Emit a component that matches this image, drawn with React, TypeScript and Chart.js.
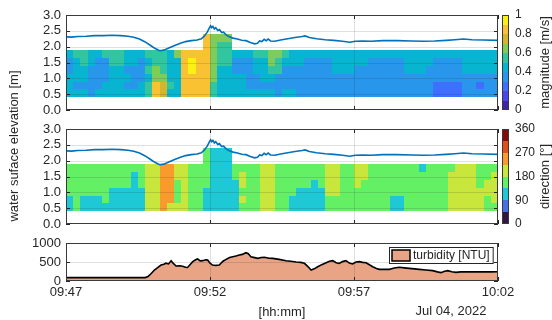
import React, { useEffect, useRef } from 'react';
import { Chart, registerables } from 'chart.js';

Chart.register(...registerables);

const FONT = "'Liberation Sans', Arial, Helvetica, sans-serif";
const TEXT = '#262626';
Chart.defaults.font.family = FONT;
Chart.defaults.color = TEXT;

// ---------- data ----------
const timeTickValues = [0, 5, 10, 15]; // minutes after 09:47
const timeTickLabels = ['09:47', '09:52', '09:57', '10:02'];
const dateLabel = 'Jul 04, 2022';
const xTitle = '[hh:mm]';
const yTitle = 'water suface elevation [m]';
const elevationTicks = [0, 0.5, 1, 1.5, 2, 2.5, 3];
const turbidityTicks = [0, 500, 1000];

// water surface elevation [m] vs minutes after 09:47
const waterLevel: [number, number][] = [
  [0.0, 2.31], [0.2, 2.3], [0.4, 2.32], [0.7, 2.33], [1.0, 2.35], [1.3, 2.35], [1.6, 2.36], [1.9, 2.35],
  [2.15, 2.33], [2.35, 2.3], [2.55, 2.24], [2.75, 2.15], [2.95, 2.03], [3.1, 1.94], [3.25, 1.87], [3.4, 1.89],
  [3.55, 1.95], [3.75, 2.03], [3.95, 2.1], [4.15, 2.16], [4.35, 2.19], [4.55, 2.21], [4.7, 2.25], [4.8, 2.33],
  [4.9, 2.45], [4.97, 2.58], [5.02, 2.66], [5.06, 2.6], [5.1, 2.64], [5.15, 2.56], [5.2, 2.6], [5.27, 2.51],
  [5.33, 2.54], [5.4, 2.45], [5.47, 2.46], [5.55, 2.38], [5.65, 2.32], [5.8, 2.27], [5.95, 2.24], [6.1, 2.2],
  [6.25, 2.19], [6.4, 2.13], [6.55, 2.09], [6.65, 2.11], [6.72, 2.18], [6.8, 2.16], [6.88, 2.23], [6.95, 2.19],
  [7.02, 2.24], [7.1, 2.18], [7.25, 2.17], [7.45, 2.21], [7.7, 2.25], [7.95, 2.29], [8.2, 2.32], [8.3, 2.34],
  [8.45, 2.29], [8.7, 2.25], [9.0, 2.22], [9.3, 2.2], [9.6, 2.17], [9.85, 2.14], [10.05, 2.17], [10.3, 2.18],
  [10.6, 2.17], [11.0, 2.19], [11.5, 2.19], [12.0, 2.18], [12.4, 2.17], [12.8, 2.18], [13.2, 2.2], [13.5, 2.22],
  [13.8, 2.24], [14.1, 2.22], [14.5, 2.21], [15.0, 2.2],
];

// turbidity [NTU] vs minutes after 09:47
const turbidity: [number, number][] = [
  [0, 88], [1, 88], [2, 88], [2.75, 90], [2.85, 120], [2.95, 190], [3.07, 290], [3.18, 350], [3.3, 420],
  [3.4, 440], [3.47, 470], [3.56, 450], [3.65, 535], [3.72, 470], [3.82, 395], [3.95, 400], [4.05, 390],
  [4.15, 360], [4.22, 355], [4.32, 440], [4.4, 510], [4.5, 560], [4.57, 580], [4.66, 530], [4.75, 535],
  [4.85, 560], [4.92, 550], [5.0, 470], [5.09, 420], [5.2, 410], [5.32, 420], [5.45, 520], [5.56, 570],
  [5.68, 620], [5.79, 640], [5.9, 660], [6.02, 685], [6.12, 700], [6.25, 745], [6.33, 720], [6.42, 640],
  [6.55, 615], [6.66, 595], [6.78, 620], [6.89, 625], [7.05, 600], [7.18, 595], [7.4, 570], [7.64, 535],
  [7.8, 520], [7.99, 500], [8.15, 490], [8.28, 465], [8.4, 380], [8.51, 290], [8.62, 320], [8.74, 375],
  [8.88, 430], [9.03, 480], [9.15, 520], [9.26, 535], [9.38, 480], [9.49, 465], [9.6, 510], [9.72, 535],
  [9.84, 470], [9.95, 447], [10.07, 500], [10.19, 510], [10.3, 490], [10.42, 480], [10.55, 420], [10.65, 375],
  [10.78, 330], [10.88, 307], [11.05, 310], [11.23, 307], [11.4, 340], [11.57, 360], [11.75, 345], [11.92, 333],
  [12.1, 320], [12.27, 307], [12.5, 290], [12.73, 272], [12.9, 240], [13.02, 220], [13.12, 250], [13.25, 272],
  [13.4, 245], [13.54, 228], [13.7, 240], [13.89, 245], [14.2, 240], [14.47, 245], [14.75, 240], [15, 245],
];

// heatmap bins: 0.25-minute columns, depth rows (edges in m)
const cellMinutes = 0.25;
const depthEdges = [0.4, 0.65, 0.9, 1.15, 1.4, 1.65, 1.9, 2.15, 2.4];

// current magnitude, tenths of m/s per cell; rows listed top (2.15-2.4 m) to bottom (0.4-0.65 m); '.' = no data
const magnitudeRows = [
  '.......... .........8 666....... .......... .......... ..........',
  '.......... .........8 655....... .......... .......... ..........',
  '4554455544 4555468888 6554445566 5444444444 4444444444 4444444444',
  '3454335544 3455448988 6553334465 4443333444 4433333444 4333344444',
  '3443334433 3565448988 6443334455 3333333444 3333333444 3333344444',
  '4443334443 3466448888 6444433443 3333333333 3333333333 3333333333',
  '4333344433 4587548888 5444433333 3333333333 3333333333 3222233233',
  '4443444444 4587448888 5444444443 4433333333 3333333333 3222233333',
];

// current direction, 45-degree sector index per cell; same layout
const directionRows = [
  '.......... .........3 222....... .......... .......... ..........',
  '.......... .........3 222....... .......... .......... ..........',
  '3333333333 3445544333 2223333443 3333334433 4433333332 3333444333',
  '3333333332 3445544333 2223433443 3333334433 4433333333 3334444334',
  '3333333332 3445534333 2222433443 3333234433 4333333333 3334444344',
  '3333332222 2445534332 2222333443 3322224433 3333333333 3334444444',
  '2322232222 2445534332 2222433443 3222223333 3333322333 3334444434',
  '2322222222 2445444332 2222333443 3222223333 3333322333 3334444433',
];

const magnitudeEdges = [0, 0.1, 0.2, 0.3, 0.4, 0.5, 0.6, 0.7, 0.8, 0.9, 1];
const magnitudeColors = ['#3e26a8', '#4747eb', '#3e6fff', '#2796eb', '#08b5d0', '#31c69f', '#80cc59', '#d4b52c', '#f8c232', '#f9f014'];
const magnitudeTicks = [0, 0.2, 0.4, 0.6, 0.8, 1];
const directionEdges = [0, 45, 90, 135, 180, 225, 270, 315, 360];
const directionColors = ['#2f1646', '#4670e8', '#1ec8d4', '#64f064', '#c8e63c', '#f89a2c', '#e0501a', '#860a0a'];
const directionTicks = [0, 90, 180, 270, 360];

const LINE_BLUE = '#0072BD';
const TURB_FILL = '#e9a385';

// ---------- plugins ----------
type DecorCfg = {
  heat?: { rows: string[]; colors: string[] };
  yTicks: number[];
  colorbar?: { edges: number[]; colors: string[]; title: string };
  legend?: string;
  date?: string;
};

function decorPlugin(cfg: DecorCfg) {
  return {
    id: 'decor',
    beforeDatasetsDraw(chart: any) {
      if (!cfg.heat) return;
      const { ctx, chartArea: ca, scales } = chart;
      const xs = scales.x, ys = scales.y;
      ctx.save();
      ctx.beginPath();
      ctx.rect(ca.left, ca.top, ca.right - ca.left, ca.bottom - ca.top);
      ctx.clip();
      const n = cfg.heat.rows.length;
      cfg.heat.rows.forEach((raw, ri) => {
        const row = raw.replace(/ /g, '');
        const bin = n - 1 - ri;
        const y0 = Math.round(ys.getPixelForValue(depthEdges[bin + 1]));
        const y1 = Math.round(ys.getPixelForValue(depthEdges[bin]));
        for (let c = 0; c < row.length; c++) {
          const ch = row[c];
          if (ch === '.') continue;
          const x0 = Math.round(xs.getPixelForValue(c * cellMinutes));
          const x1 = Math.round(xs.getPixelForValue((c + 1) * cellMinutes));
          ctx.fillStyle = cfg.heat!.colors[Number(ch)];
          ctx.fillRect(x0, y0, x1 - x0, y1 - y0);
        }
      });
      ctx.restore();
    },
    afterDatasetsDraw(chart: any) {
      const { ctx, chartArea: ca, scales } = chart;
      const xs = scales.x, ys = scales.y;
      ctx.save();
      // grid
      ctx.strokeStyle = 'rgba(38,38,38,0.15)';
      ctx.lineWidth = 1;
      ctx.beginPath();
      cfg.yTicks.forEach((v) => {
        if (v <= ys.min || v >= ys.max) return;
        const y = Math.round(ys.getPixelForValue(v)) + 0.5;
        ctx.moveTo(ca.left, y);
        ctx.lineTo(ca.right, y);
      });
      timeTickValues.forEach((v) => {
        if (v <= xs.min || v >= xs.max) return;
        const x = Math.round(xs.getPixelForValue(v)) + 0.5;
        ctx.moveTo(x, ca.top);
        ctx.lineTo(x, ca.bottom);
      });
      ctx.stroke();
      // inward tick marks
      ctx.strokeStyle = TEXT;
      ctx.beginPath();
      const tl = 4;
      cfg.yTicks.forEach((v) => {
        const y = Math.round(ys.getPixelForValue(v)) + 0.5;
        ctx.moveTo(ca.left, y);
        ctx.lineTo(ca.left + tl, y);
        ctx.moveTo(ca.right - tl, y);
        ctx.lineTo(ca.right, y);
      });
      timeTickValues.forEach((v) => {
        const x = Math.round(xs.getPixelForValue(v)) + 0.5;
        ctx.moveTo(x, ca.top);
        ctx.lineTo(x, ca.top + tl);
        ctx.moveTo(x, ca.bottom - tl);
        ctx.lineTo(x, ca.bottom);
      });
      ctx.stroke();
      // frame
      ctx.strokeStyle = '#3a3a3a';
      ctx.strokeRect(ca.left + 0.5, ca.top + 0.5, ca.right - ca.left - 1, ca.bottom - ca.top - 1);
      ctx.restore();
    },
    afterDraw(chart: any) {
      const { ctx, chartArea: ca, scales } = chart;
      ctx.save();
      if (cfg.colorbar) {
        const cb = scales.cb;
        const x0 = ca.right + 4;
        const w = 7;
        cfg.colorbar.colors.forEach((col, k) => {
          const yA = Math.round(cb.getPixelForValue(cfg.colorbar!.edges[k + 1]));
          const yB = Math.round(cb.getPixelForValue(cfg.colorbar!.edges[k]));
          ctx.fillStyle = col;
          ctx.fillRect(x0, yA, w, yB - yA);
        });
        ctx.strokeStyle = '#3a3a3a';
        ctx.lineWidth = 1;
        ctx.strokeRect(x0 + 0.5, ca.top + 0.5, w - 1, ca.bottom - ca.top - 1);
        ctx.translate(545, (ca.top + ca.bottom) / 2);
        ctx.rotate(-Math.PI / 2);
        ctx.fillStyle = TEXT;
        ctx.font = `13px ${FONT}`;
        ctx.textAlign = 'center';
        ctx.textBaseline = 'middle';
        ctx.fillText(cfg.colorbar.title, 0, 0);
        ctx.setTransform(1, 0, 0, 1, 0, 0);
      }
      if (cfg.legend) {
        ctx.font = `12px ${FONT}`;
        const tw = ctx.measureText(cfg.legend).width;
        const h = 17;
        const sw = 18;
        const bw = 3 + sw + 3 + tw + 4;
        const bx = Math.round(ca.right - 4 - bw);
        const by = Math.round(ca.top + 4);
        ctx.fillStyle = '#ffffff';
        ctx.fillRect(bx, by, bw, h);
        ctx.strokeStyle = '#262626';
        ctx.lineWidth = 1;
        ctx.strokeRect(bx + 0.5, by + 0.5, bw - 1, h - 1);
        ctx.fillStyle = TURB_FILL;
        ctx.fillRect(bx + 3, by + 3, sw, h - 6);
        ctx.lineWidth = 1.5;
        ctx.strokeStyle = '#000000';
        ctx.strokeRect(bx + 3, by + 3, sw, h - 6);
        ctx.fillStyle = TEXT;
        ctx.textAlign = 'left';
        ctx.textBaseline = 'middle';
        ctx.fillText(cfg.legend, bx + 3 + sw + 3, by + h / 2 + 0.5);
      }
      if (cfg.date) {
        ctx.font = `13px ${FONT}`;
        ctx.fillStyle = TEXT;
        ctx.textAlign = 'center';
        ctx.textBaseline = 'middle';
        ctx.fillText(cfg.date, ca.right - 47, 76);
      }
      ctx.restore();
    },
  };
}

// ---------- scale helpers ----------
const forceTicks = (vals: number[]) => (s: any) => {
  s.ticks = vals.map((v) => ({ value: v }));
};

const zeroPad = (s: any) => {
  s.paddingTop = 0;
  s.paddingBottom = 0;
  s.paddingLeft = 0;
  s.paddingRight = 0;
};

function leftScale(min: number, max: number, vals: number[], fmt: (v: number) => string) {
  return {
    type: 'linear',
    position: 'left',
    min,
    max,
    grid: { display: false, drawTicks: false },
    border: { display: false },
    afterBuildTicks: forceTicks(vals),
    ticks: { autoSkip: false, padding: 5, font: { size: 13 }, color: TEXT, callback: (v: any) => fmt(Number(v)) },
    afterFit: (s: any) => {
      s.width = 66;
      zeroPad(s);
    },
  };
}

function cbScale(max: number, vals: number[]) {
  return {
    type: 'linear',
    axis: 'y',
    position: 'right',
    display: true,
    min: 0,
    max,
    grid: { display: false, drawTicks: false },
    border: { display: false },
    afterBuildTicks: forceTicks(vals),
    ticks: { autoSkip: false, padding: 17, font: { size: 12 }, color: TEXT, callback: (v: any) => String(Number(Number(v).toFixed(2))) },
    afterFit: (s: any) => {
      s.width = 54;
      zeroPad(s);
    },
  };
}

const hiddenX = { type: 'linear', min: 0, max: 15, display: false };

function heatPanelConfig(rows: string[], colors: string[], edges: number[], cbMax: number, cbTicks: number[], title: string, pad: any) {
  return {
    type: 'line',
    data: {
      datasets: [
        {
          data: waterLevel.map(([x, y]) => ({ x, y })),
          borderColor: LINE_BLUE,
          borderWidth: 1.6,
          pointRadius: 0,
          tension: 0,
          xAxisID: 'x',
          yAxisID: 'y',
        },
      ],
    },
    options: {
      responsive: false,
      animation: false,
      layout: { padding: pad },
      scales: {
        x: hiddenX,
        y: leftScale(0, 3, elevationTicks, (v) => v.toFixed(1)),
        cb: cbScale(cbMax, cbTicks),
      },
      plugins: { legend: { display: false }, tooltip: { enabled: false } },
    },
    plugins: [decorPlugin({ heat: { rows, colors }, yTicks: elevationTicks, colorbar: { edges, colors, title } })],
  };
}

function turbidityConfig() {
  return {
    type: 'line',
    data: {
      datasets: [
        {
          label: 'turbidity [NTU]',
          data: turbidity.map(([x, y]) => ({ x, y })),
          borderColor: '#000000',
          backgroundColor: TURB_FILL,
          fill: 'origin',
          borderWidth: 1.6,
          pointRadius: 0,
          tension: 0,
        },
      ],
    },
    options: {
      responsive: false,
      animation: false,
      layout: { padding: { top: 8, bottom: 0, left: 0, right: 54 } },
      scales: {
        x: {
          type: 'linear',
          min: 0,
          max: 15,
          grid: { display: false, drawTicks: false },
          border: { display: false },
          afterBuildTicks: forceTicks(timeTickValues),
          ticks: {
            autoSkip: false,
            maxRotation: 0,
            padding: 4,
            font: { size: 13 },
            color: TEXT,
            callback: (v: any) => timeTickLabels[timeTickValues.indexOf(Number(v))] ?? '',
          },
          title: { display: true, text: xTitle, font: { size: 13 }, color: TEXT, padding: { top: 0, bottom: 0 } },
          afterFit: (s: any) => {
            s.height = 39;
            zeroPad(s);
          },
        },
        y: leftScale(0, 1000, turbidityTicks, (v) => String(v)),
      },
      plugins: { legend: { display: false }, tooltip: { enabled: false } },
    },
    plugins: [decorPlugin({ yTicks: turbidityTicks, legend: 'turbidity [NTU]', date: dateLabel })],
  };
}

function ChartCanvas({ top, height, build }: { top: number; height: number; build: () => any }) {
  const ref = useRef<HTMLCanvasElement>(null);
  useEffect(() => {
    const chart = new Chart(ref.current as HTMLCanvasElement, build());
    return () => chart.destroy();
  }, []);
  return (
    <canvas
      ref={ref}
      width={552}
      height={height}
      style={{ position: 'absolute', left: 0, top, width: 552, height, display: 'block' }}
    />
  );
}

export default function App() {
  return (
    <div style={{ position: 'absolute', left: 0, top: 0, width: 552, height: 320, background: '#ffffff', overflow: 'hidden' }}>
      <ChartCanvas
        top={0}
        height={120}
        build={() =>
          heatPanelConfig(magnitudeRows, magnitudeColors, magnitudeEdges, 1, magnitudeTicks, 'magnitude [m/s]', {
            top: 15,
            bottom: 10,
            left: 0,
            right: 0,
          })
        }
      />
      <ChartCanvas
        top={120}
        height={115}
        build={() =>
          heatPanelConfig(directionRows, directionColors, directionEdges, 360, directionTicks, 'direction [°]', {
            top: 9,
            bottom: 11,
            left: 0,
            right: 0,
          })
        }
      />
      <ChartCanvas top={235} height={85} build={turbidityConfig} />
      <div
        style={{
          position: 'absolute',
          left: 14 - 110,
          top: 146 - 8,
          width: 220,
          height: 16,
          lineHeight: '16px',
          textAlign: 'center',
          transform: 'rotate(-90deg)',
          fontFamily: FONT,
          fontSize: 13,
          color: TEXT,
          whiteSpace: 'nowrap',
        }}
      >
        {yTitle}
      </div>
    </div>
  );
}
